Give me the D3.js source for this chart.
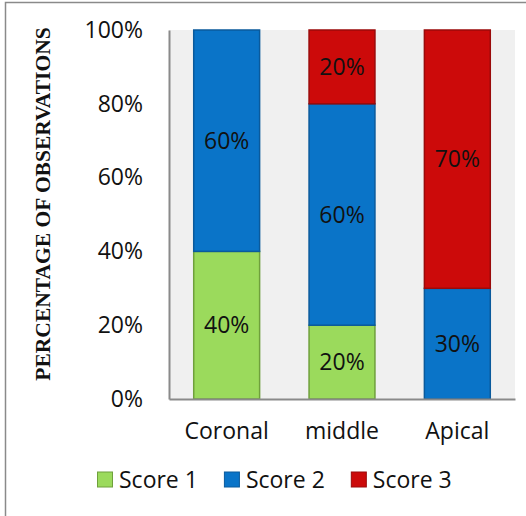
<html>
<head>
    <style>
        body { margin: 0; background-color: white; }
        svg { display: block; }
    </style>
    <script src="https://cdn.jsdelivr.net/npm/d3@7"></script>
</head>
<body>
    <svg id="Chart"></svg>
    <script>
    // chart data
    let categories = ["Coronal", "middle", "Apical"]
    let seriesNames = ["Score 1", "Score 2", "Score 3"]
    let score1 = [40, 20, 0]
    let score2 = [60, 60, 30]
    let score3 = [0, 20, 70]
    let yTicks = [0, 20, 40, 60, 80, 100]

    let fills = ["#9bda5c", "#0a74c8", "#cc0a0a"]
    let strokes = ["#6fa03c", "#0a5a9c", "#9a0a0a"]
    let labelFont = "'Open Sans', sans-serif"
    let labelSize = "23px"

    function getConfig() {
        let width = 526
        let height = 516
        let margin = { top: 30, bottom: 117, left: 169, right: 11 }
        let bodyHeight = height - margin.top - margin.bottom
        let bodyWidth = width - margin.left - margin.right
        let container = d3.select("#Chart")
            .attr("width", width)
            .attr("height", height)
        return { width, height, margin, bodyHeight, bodyWidth, container }
    }

    function getScales(config) {
        let { bodyWidth, bodyHeight } = config
        let xScale = d3.scaleBand()
            .domain(categories)
            .range([0, bodyWidth])
            .paddingInner(0.42)
            .paddingOuter(0.21)
        let yScale = d3.scaleLinear()
            .domain([0, 100])
            .range([bodyHeight, 0])
        return { xScale, yScale }
    }

    function drawChart() {
        let config = getConfig()
        let { container, margin, bodyWidth, bodyHeight } = config
        let { xScale, yScale } = getScales(config)

        // outer frame
        container.append("rect")
            .attr("x", 5.5).attr("y", 2.5)
            .attr("width", 600).attr("height", 600)
            .attr("fill", "none")
            .attr("stroke", "#8a8a8a")
            .attr("stroke-width", 1.5)

        let body = container.append("g")
            .attr("transform", `translate(${margin.left},${margin.top})`)

        body.append("rect")
            .attr("width", bodyWidth)
            .attr("height", bodyHeight)
            .attr("fill", "#f0f0f0")

        // stack the data
        let rows = categories.map((c, i) => ({
            cat: c, "Score 1": score1[i], "Score 2": score2[i], "Score 3": score3[i]
        }))
        let stacked = d3.stack().keys(seriesNames)(rows)

        stacked.forEach((layer, li) => {
            let g = body.append("g")
            let segs = layer.filter(d => d[1] - d[0] > 0)
            g.selectAll("rect").data(segs).enter().append("rect")
                .attr("x", d => xScale(d.data.cat) + 0.5)
                .attr("width", xScale.bandwidth() - 1)
                .attr("y", d => yScale(d[1]))
                .attr("height", d => yScale(d[0]) - yScale(d[1]))
                .attr("fill", fills[li])
                .attr("stroke", strokes[li])
                .attr("stroke-width", 1.5)
            g.selectAll("text").data(segs).enter().append("text")
                .attr("x", d => xScale(d.data.cat) + xScale.bandwidth() / 2)
                .attr("y", d => (yScale(d[0]) + yScale(d[1])) / 2)
                .attr("dy", "0.36em")
                .attr("text-anchor", "middle")
                .style("font-family", labelFont)
                .style("font-size", labelSize)
                .attr("fill", "#111")
                .text(d => (d[1] - d[0]) + "%")
        })

        // axes
        let axisY = d3.axisLeft(yScale)
            .tickValues(yTicks)
            .tickSize(0)
            .tickPadding(26)
            .tickFormat(d => d + "%")
        let gy = body.append("g").call(axisY)
        gy.select(".domain").attr("stroke", "#8a8a8a").attr("stroke-width", 2)
        gy.selectAll("text")
            .style("font-family", labelFont)
            .style("font-size", labelSize)
            .attr("fill", "#111")

        let axisX = d3.axisBottom(xScale).tickSize(0).tickPadding(24)
        let gx = body.append("g")
            .attr("transform", `translate(0,${bodyHeight})`)
            .call(axisX)
        gx.select(".domain").attr("stroke", "#8a8a8a").attr("stroke-width", 2)
        gx.selectAll("text")
            .style("font-family", labelFont)
            .style("font-size", labelSize)
            .attr("fill", "#111")

        // y axis title
        container.append("text")
            .attr("transform", `translate(50,204) rotate(-90)`)
            .attr("text-anchor", "middle")
            .style("font-family", "'Liberation Serif', 'Times New Roman', serif")
            .style("font-weight", "bold")
            .style("font-size", "21.5px")
            .attr("fill", "#111")
            .text("PERCENTAGE OF OBSERVATIONS")

        // legend
        let legend = container.append("g").attr("transform", "translate(97,479.5)")
        let cursor = 0
        seriesNames.forEach((name, i) => {
            let item = legend.append("g").attr("transform", `translate(${cursor},0)`)
            item.append("rect")
                .attr("x", 0.5).attr("y", -7.5)
                .attr("width", 15).attr("height", 15)
                .attr("fill", fills[i])
                .attr("stroke", strokes[i])
            let t = item.append("text")
                .attr("x", 22).attr("y", 0)
                .attr("dy", "0.36em")
                .style("font-family", labelFont)
                .style("font-size", labelSize)
                .attr("fill", "#111")
                .text(name)
            cursor += 22 + t.node().getComputedTextLength() + 26
        })
    }

    drawChart()
    </script>
</body>
</html>
